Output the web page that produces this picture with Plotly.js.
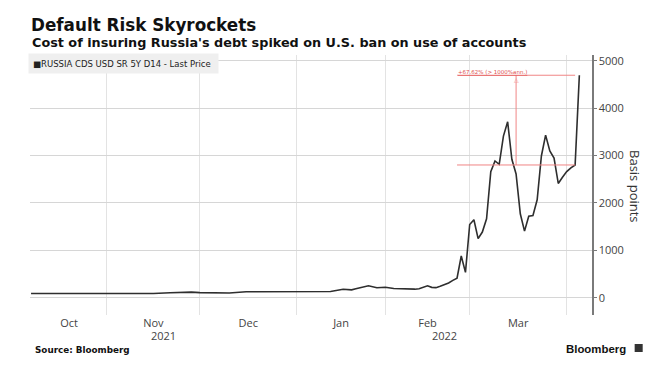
<!DOCTYPE html>
<html>
<head>
<meta charset="utf-8">
<script src="https://cdn.plot.ly/plotly-3.0.1.min.js"></script>
<style>html,body{margin:0;padding:0;background:#fff;}#chart{width:661px;height:374px;}</style>
</head>
<body>
<div id="chart"></div>
<script>
// ---- data ----
const dates = [
  '2021-10-06','2021-10-13','2021-10-15','2021-10-19','2021-10-26',
  '2021-11-02','2021-11-05','2021-11-09','2021-11-11','2021-11-16','2021-11-22','2021-11-29',
  '2021-12-01','2021-12-08','2021-12-10','2021-12-16','2021-12-23','2021-12-29',
  '2022-01-04','2022-01-11','2022-01-13','2022-01-18','2022-01-20','2022-01-21','2022-01-25','2022-01-26','2022-01-28','2022-01-31',
  '2022-02-01','2022-02-03','2022-02-07','2022-02-10','2022-02-11','2022-02-14','2022-02-15','2022-02-16','2022-02-17','2022-02-18',
  '2022-02-21','2022-02-22','2022-02-23','2022-02-24','2022-02-25','2022-02-28',
  '2022-03-01','2022-03-02','2022-03-03','2022-03-04','2022-03-07','2022-03-08','2022-03-09','2022-03-10','2022-03-11',
  '2022-03-14','2022-03-15','2022-03-16','2022-03-17','2022-03-18','2022-03-21','2022-03-22','2022-03-23','2022-03-24','2022-03-25',
  '2022-03-28','2022-03-29','2022-03-30','2022-03-31','2022-04-01','2022-04-04','2022-04-05','2022-04-06'
];
const cds = [
  90, 90, 86, 78, 77,
  77, 88, 77, 78, 90, 104, 118,
  106, 100, 100, 124, 125, 126,
  114, 124, 130, 178, 166, 188, 235, 252, 210, 218,
  220, 195, 185, 180, 190, 225, 250, 218, 212, 240,
  275, 310, 365, 410, 880, 535,
  1545, 1645, 1245, 1385, 1665, 2660, 2885, 2815, 3410,
  3710, 2920, 2610, 1770, 1405, 1720, 1735, 2065, 2990, 3430,
  3095, 2945, 2410, 2540, 2660, 2740, 2800, 4693
];
const seriesName = 'RUSSIA CDS USD SR 5Y D14 - Last Price';
const monthStarts = ['2021-11-01','2021-12-01','2022-01-03','2022-02-01','2022-03-01','2022-04-01'];
const monthLabelPos = ['2021-10-19','2021-11-16','2021-12-16 12:00','2022-01-17 12:00','2022-02-15','2022-03-16 12:00'];
const monthLabels = ['Oct','Nov','Dec','Jan','Feb','Mar'];
const yearLabelPos = ['2021-11-18 12:00','2022-02-21'];
const yearLabels = ['2021','2022'];
const yTicks = [0, 1000, 2000, 3000, 4000, 5000];
const yTickText = ['0','1000','2000','3000','4000','5000'];
const yMinorTicks = [-500, 500, 1500, 2500, 3500, 4500];
const changeStart = '2022-02-24';
const changeMid = '2022-03-16';
const changeEnd = '2022-04-05';
const changeText = '+67.62% (> 1000%ann.)';

// ---- derived ----
const baseVal = cds[dates.indexOf(changeEnd)];
const topVal = cds[cds.length - 1];
const red = '#f08585';
const grid = '#e3e3e3';
const yRange = [-365, 5120];

const trace = {
  x: dates, y: cds, type: 'scatter', mode: 'lines', name: seriesName,
  line: {color: '#2e2e2e', width: 1.6}, hoverinfo: 'skip', showlegend: false
};

const annotations = [
  {xref:'paper', yref:'paper', x:0, y:1.048, xanchor:'left', yanchor:'middle', showarrow:false,
   text:"Cost of insuring Russia's debt spiked on U.S. ban on use of accounts",
   font:{family:'DejaVu Sans', size:12.8, color:'#111', weight:'bold'}},
  {xref:'paper', yref:'paper', x:-0.0036, y:0.967, xanchor:'left', yanchor:'middle', showarrow:false,
   text:'■' + seriesName, align:'left', width:181, height:11, borderpad:4, bgcolor:'#efefef',
   font:{family:'DejaVu Sans', size:8.5, color:'#222'}},
  {xref:'paper', yref:'paper', x:1.0777, y:0.4935, xanchor:'center', yanchor:'middle', showarrow:false,
   text:'Basis points', textangle:90, font:{family:'Open Sans', size:13, color:'#333'}},
  {xref:'paper', yref:'paper', x:0.0053, y:-0.1346, xanchor:'left', yanchor:'middle', showarrow:false,
   text:'Source: Bloomberg', font:{family:'DejaVu Sans', size:8.8, color:'#111', weight:'bold'}},
  {xref:'paper', yref:'paper', x:1.0644, y:-0.1308, xanchor:'right', yanchor:'middle', showarrow:false,
   text:'Bloomberg', font:{family:'Liberation Sans', size:11.4, color:'#111', weight:'bold'}},
  {xref:'x', yref:'y', x:changeStart, y:topVal, xanchor:'left', yanchor:'bottom', showarrow:false,
   text:'<u>' + changeText + '</u>', borderpad:0, yshift:-1,
   font:{family:'DejaVu Sans', size:5.5, color:'#e05050'}},
  {xref:'x', yref:'y', x:changeMid, y:topVal, xanchor:'center', yanchor:'top', showarrow:false,
   text:'△', borderpad:0, font:{family:'DejaVu Sans', size:6, color:red}}
];
yearLabels.forEach((t, i) => annotations.push({
  xref:'x', yref:'paper', x:yearLabelPos[i], y:-0.077, xanchor:'center', yanchor:'middle', showarrow:false,
  text:t, font:{family:'Open Sans', size:11, color:'#444'}
}));

const shapes = [
  {type:'line', xref:'x', yref:'y', x0:changeStart, x1:changeEnd, y0:baseVal, y1:baseVal, line:{color:red, width:1}},
  {type:'line', xref:'x', yref:'y', x0:changeStart, x1:changeEnd, y0:topVal, y1:topVal, line:{color:red, width:1}},
  {type:'line', xref:'x', yref:'y', x0:changeMid, x1:changeMid, y0:baseVal, y1:topVal, line:{color:red, width:1}},
  {type:'rect', xref:'paper', yref:'paper', x0:1.0759, x1:1.0902, y0:-0.1423, y1:-0.1115,
   fillcolor:'#333', line:{width:0}}
];

const layout = {
  width: 661, height: 374,
  margin: {l:30, r:69, t:55, b:59, pad:0},
  paper_bgcolor:'#fff', plot_bgcolor:'#fff',
  showlegend: false,
  title: {text:'Default Risk Skyrockets', xref:'container', yref:'container', x:31/661, xanchor:'left',
          y:1 - 25/374, yanchor:'middle', font:{family:'DejaVu Sans', size:16.8, color:'#111', weight:'bold'}},
  xaxis: {
    type:'date', range:['2021-10-05 18:00','2022-04-11'],
    rangebreaks:[{bounds:['sat','mon']}],
    tickmode:'array', tickvals:monthLabelPos, ticktext:monthLabels,
    showgrid:false, ticks:'', showline:false, zeroline:false,
    tickfont:{family:'Open Sans', size:11, color:'#444'},
    minor:{tickmode:'array', tickvals:monthStarts, showgrid:true, gridcolor:grid, gridwidth:1, ticks:''}
  },
  yaxis: {
    side:'right', range:yRange, tickmode:'array', tickvals:yTicks, ticktext:yTickText,
    showgrid:true, gridcolor:'#d6d6d6', gridwidth:1, zeroline:false,
    showline:true, linecolor:'#7a7a7a', linewidth:1.5,
    ticks:'outside', ticklen:3, tickwidth:1, tickcolor:'#7a7a7a',
    tickfont:{family:'Open Sans', size:11, color:'#444'}
  },
  yaxis2: {
    overlaying:'y', side:'right', range:yRange, tickmode:'array', tickvals:yMinorTicks,
    showticklabels:false, showgrid:false, zeroline:false, showline:false,
    ticks:'outside', ticklen:2, tickwidth:1, tickcolor:'#7a7a7a'
  },
  annotations: annotations,
  shapes: shapes
};

Plotly.newPlot('chart', [trace], layout, {displayModeBar:false, staticPlot:true});
</script>
</body>
</html>
